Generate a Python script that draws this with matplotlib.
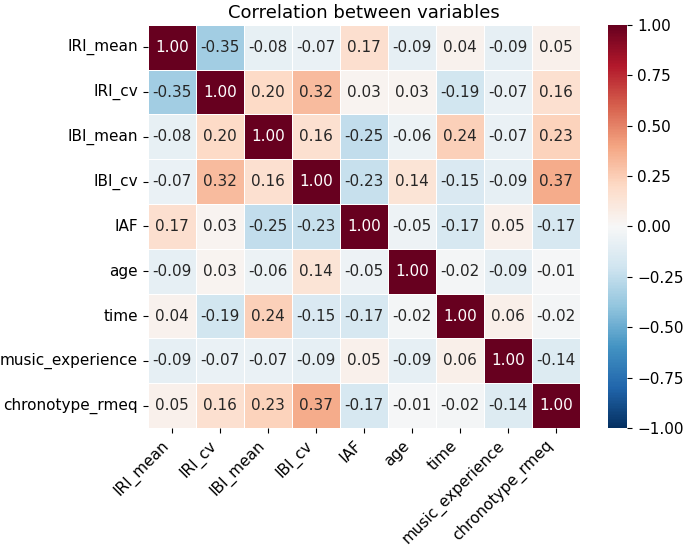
import numpy as np
import matplotlib
matplotlib.use("Agg")
import matplotlib.pyplot as plt
import seaborn as sns

variables = ["IRI_mean", "IRI_cv", "IBI_mean", "IBI_cv", "IAF", "age", "time",
             "music_experience", "chronotype_rmeq"]

# correlation matrix, row by row
corr = np.array([
    [1.00, -0.35, -0.08, -0.07, 0.17, -0.09, 0.04, -0.09, 0.05],
    [-0.35, 1.00, 0.20, 0.32, 0.03, 0.03, -0.19, -0.07, 0.16],
    [-0.08, 0.20, 1.00, 0.16, -0.25, -0.06, 0.24, -0.07, 0.23],
    [-0.07, 0.32, 0.16, 1.00, -0.23, 0.14, -0.15, -0.09, 0.37],
    [0.17, 0.03, -0.25, -0.23, 1.00, -0.05, -0.17, 0.05, -0.17],
    [-0.09, 0.03, -0.06, 0.14, -0.05, 1.00, -0.02, -0.09, -0.01],
    [0.04, -0.19, 0.24, -0.15, -0.17, -0.02, 1.00, 0.06, -0.02],
    [-0.09, -0.07, -0.07, -0.09, 0.05, -0.09, 0.06, 1.00, -0.14],
    [0.05, 0.16, 0.23, 0.37, -0.17, -0.01, -0.02, -0.14, 1.00],
])
cbar_ticks = [-1, -0.75, -0.5, -0.25, 0, 0.25, 0.5, 0.75, 1]

fig = plt.figure(figsize=(6.85, 5.47), dpi=100)
ax = fig.add_axes([0.216, 0.2175, 0.631, 0.737])
cax = fig.add_axes([0.887, 0.2175, 0.029, 0.737])

sns.heatmap(corr, ax=ax, cbar_ax=cax, cmap="RdBu_r", vmin=-1, vmax=1,
            annot=True, fmt=".2f", linewidths=0.5, linecolor="white",
            annot_kws={"size": 11},
            xticklabels=variables, yticklabels=variables)

ax.set_title("Correlation between variables", fontsize=13, pad=5)
ax.set_xticklabels(variables, rotation=45, ha="right", fontsize=11)
ax.set_yticklabels(variables, rotation=0, fontsize=11)
cax.set_yticks(cbar_ticks)
cax.set_yticklabels([f"{t:.2f}".replace("-", "\u2212") for t in cbar_ticks])
cax.tick_params(labelsize=11)

fig.savefig("out.png", dpi=100)
